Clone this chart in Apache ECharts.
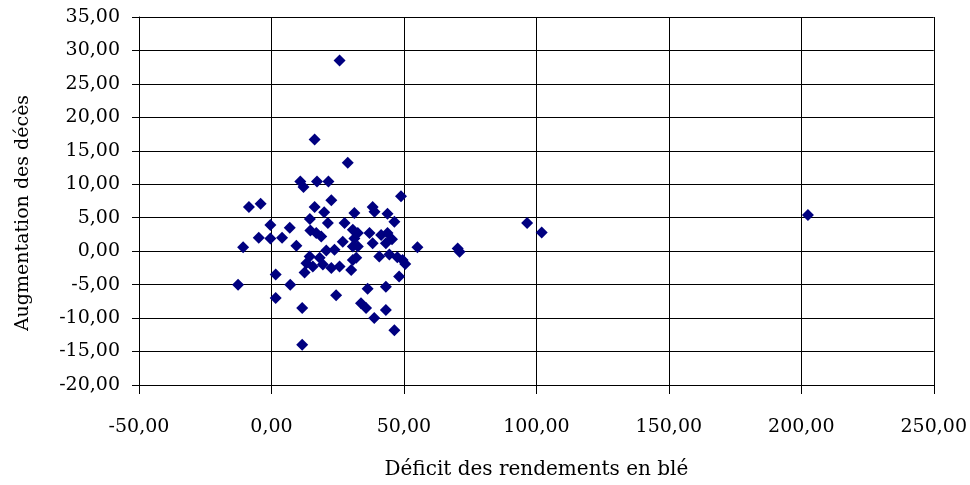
<!DOCTYPE html>
<html>
<head>
<meta charset="utf-8">
<script src="https://cdn.jsdelivr.net/npm/echarts@6/dist/echarts.min.js"></script>
<style>
html,body{margin:0;padding:0;background:#fff;}
#chart{width:970px;height:485px;}
</style>
</head>
<body>
<div id="chart"></div>
<script>
const xTitle = "Déficit des rendements en blé";
const yTitle = "Augmentation des décès";
const xValues = [
  -12.6,-10.7,-8.5,-4.1,-4.8,-0.4,-0.4,1.6,1.6,4.0,
  6.9,7.1,9.4,10.9,12.1,11.6,11.6,12.5,13.2,14.4,
  15.6,14.5,14.7,16.3,16.3,17.2,16.9,18.8,18.2,19.4,
  19.9,21.3,21.5,22.6,20.7,23.8,22.6,25.7,24.4,25.7,
  26.9,27.6,28.8,30.1,30.7,30.7,31.3,31.3,30.7,32.0,
  32.6,32.6,33.8,35.7,36.3,37.0,38.2,38.2,38.9,38.8,
  40.7,41.4,43.2,43.8,43.2,43.2,43.8,44.5,46.4,46.4,
  47.5,48.2,48.9,49.5,50.5,45.5,55.1,70.3,71.0,96.5,
  102.0,202.5
];
const yValues = [
  -5.0,0.6,6.6,7.1,2.0,3.9,1.9,-3.5,-7.0,2.0,
  3.5,-5.0,0.8,10.4,9.6,-8.5,-14.0,-3.2,-1.8,-0.8,
  -2.3,4.8,3.1,6.6,16.7,10.4,2.7,2.2,-1.0,-2.0,
  5.8,4.2,10.4,7.6,0.1,0.2,-2.5,-2.3,-6.6,28.5,
  1.4,4.2,13.2,-2.8,-1.3,3.2,5.7,1.9,0.7,-1.0,
  2.7,0.7,-7.8,-8.5,-5.6,2.7,1.2,6.6,5.9,-10.0,
  -0.8,2.4,1.2,2.7,-5.3,-8.8,5.6,-0.5,4.4,-11.8,
  -0.9,-3.8,8.2,-1.3,-1.9,1.8,0.6,0.4,-0.1,4.2,
  2.8,5.4
];
const xTicks = {min:-50, max:250, interval:50};
const yTicks = {min:-20, max:35, interval:5};

const points = xValues.map((x,i)=>[x, yValues[i]]);
const fmt = v => v.toFixed(2).replace('.', ',');
const font = "'DejaVu Serif', 'Liberation Serif', serif";

const chart = echarts.init(document.getElementById('chart'), null, {renderer:'canvas'});
chart.setOption({
  animation:false,
  backgroundColor:'#fff',
  grid:{left:139, right:33, top:17, bottom:100, containLabel:false},
  xAxis:{
    type:'value', min:xTicks.min, max:xTicks.max, interval:xTicks.interval,
    name:xTitle, nameLocation:'middle', nameGap:75,
    nameTextStyle:{fontFamily:font, fontSize:20, color:'#000'},
    axisLine:{show:true, onZero:false, lineStyle:{color:'#000', width:1}},
    axisTick:{show:true, length:9, lineStyle:{color:'#000'}},
    axisLabel:{formatter:fmt, fontFamily:font, fontSize:19, color:'#000', margin:33},
    splitLine:{show:true, lineStyle:{color:'#000', width:1}}
  },
  yAxis:{
    type:'value', min:yTicks.min, max:yTicks.max, interval:yTicks.interval,
    name:yTitle, nameLocation:'middle', nameGap:106, nameRotate:90,
    nameTextStyle:{fontFamily:font, fontSize:19, color:'#000', padding:[0,24,0,0]},
    axisLine:{show:true, onZero:false, lineStyle:{color:'#000', width:1}},
    axisTick:{show:true, length:7, lineStyle:{color:'#000'}},
    axisLabel:{formatter:fmt, fontFamily:font, fontSize:19, color:'#000', margin:19},
    splitLine:{show:true, lineStyle:{color:'#000', width:1}}
  },
  series:[{
    type:'scatter',
    data:points,
    symbol:'diamond',
    symbolSize:12,
    itemStyle:{color:'#000080', opacity:1}
  }]
});
</script>
</body>
</html>
